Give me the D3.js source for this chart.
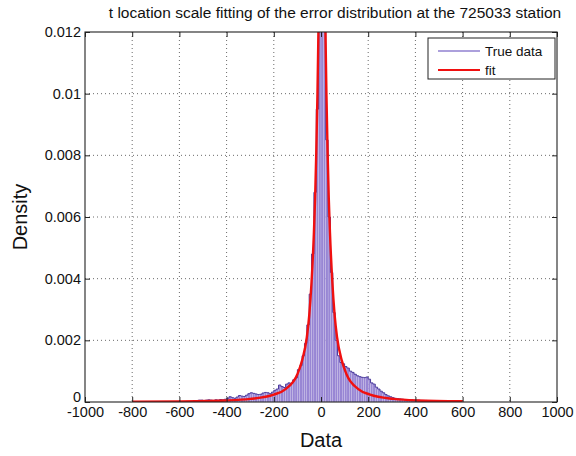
<!DOCTYPE html>
<html>
<head>
<meta charset="utf-8">
<script src="https://cdn.jsdelivr.net/npm/d3@7"></script>
<style>
  html, body { margin: 0; padding: 0; background: #fff; }
  text { font-family: "Liberation Sans", Arial, sans-serif; fill: #111; }
</style>
</head>
<body>
<svg id="chart" width="576" height="456"></svg>
<script>
// Histogram of errors: bin width 10, centers from -515 to 515
const binWidth = 10;
const binCenters = d3.range(-515, 520, 10);
const binDensity = [
  0.00006, 0.00006, 0.00005, 0.00006, 0.00007, 0.00006, 0.00005, 0.00007, 0.00006, 0.00008,
  0.00007, 0.00009, 0.00012, 0.00017, 0.00014, 0.00012, 0.00016, 0.00021, 0.00019, 0.00018,
  0.00022, 0.00027, 0.00030, 0.00028, 0.00026, 0.00024, 0.00025, 0.00029, 0.00031, 0.00030,
  0.00027, 0.00032, 0.00038, 0.00042, 0.00055, 0.00050, 0.00047, 0.00058, 0.00062, 0.00060,
  0.00072, 0.00078, 0.00105, 0.00118, 0.00150, 0.00190, 0.00250, 0.00350, 0.00480, 0.00680,
  0.00950, 0.01350, 0.01650, 0.01220, 0.00850, 0.00600, 0.00420, 0.00290, 0.00200, 0.00150,
  0.00128, 0.00124, 0.00115, 0.00110, 0.00100, 0.00096, 0.00090, 0.00085, 0.00082, 0.00080,
  0.00079, 0.00081, 0.00074, 0.00062, 0.00058, 0.00048, 0.00042, 0.00035, 0.00030, 0.00024,
  0.00020, 0.00017, 0.00014, 0.00012, 0.00011, 0.00010, 0.00009, 0.00008, 0.00008, 0.00007,
  0.00007, 0.00006, 0.00006, 0.00006, 0.00005, 0.00005, 0.00005, 0.00004, 0.00004, 0.00004,
  0.00004, 0.00004, 0.00003, 0.00003
];

// Fitted t location-scale density
const fitX = [-800, -600, -400, -300, -200, -150, -100, -80, -60, -50, -40, -30, -25, -20, -15, -10, -5, 0, 4,
              8, 13, 18, 23, 28, 33, 38, 48, 58, 68, 88, 108, 158, 208, 308, 408, 600];
const fitY = [0.000012, 0.00002, 0.00005, 0.0001, 0.00024, 0.00042, 0.0009, 0.00135, 0.0021, 0.0028, 0.0039,
              0.0055, 0.0066, 0.0081, 0.0100, 0.0125, 0.0150, 0.0168, 0.0174,
              0.0168, 0.0150, 0.0125, 0.0100, 0.0081, 0.0066, 0.0055, 0.0039, 0.0028, 0.0021,
              0.00135, 0.0009, 0.00042, 0.00024, 0.0001, 0.00005, 0.000022];

const xTicks = [-1000, -800, -600, -400, -200, 0, 200, 400, 600, 800, 1000];
const yTicks = [0, 0.002, 0.004, 0.006, 0.008, 0.01, 0.012];
const yTickLabels = ["0", "0.002", "0.004", "0.006", "0.008", "0.01", "0.012"];
const legendLabels = ["True data", "fit"];

const margin = { left: 85, right: 19, top: 32, bottom: 54 };
const W = 576, H = 456;
const iw = W - margin.left - margin.right;
const ih = H - margin.top - margin.bottom;

const svg = d3.select("#chart");
const g = svg.append("g").attr("transform", `translate(${margin.left},${margin.top})`);

const x = d3.scaleLinear().domain([-1000, 1000]).range([0, iw]);
const y = d3.scaleLinear().domain([0, 0.012]).range([ih, 0]);

g.append("clipPath").attr("id", "plotClip")
  .append("rect").attr("x", 0).attr("y", 0).attr("width", iw).attr("height", ih);

// dotted grid
const grid = g.append("g").attr("stroke", "#444").attr("stroke-width", 0.8)
  .attr("stroke-dasharray", "1,3");
xTicks.slice(1, -1).forEach(t => {
  grid.append("line").attr("x1", x(t)).attr("x2", x(t)).attr("y1", 0).attr("y2", ih);
});
yTicks.slice(1, -1).forEach(t => {
  grid.append("line").attr("x1", 0).attr("x2", iw).attr("y1", y(t)).attr("y2", y(t));
});

const plot = g.append("g").attr("clip-path", "url(#plotClip)");

// histogram bars
plot.append("g").selectAll("rect")
  .data(binCenters.map((c, i) => ({ c, d: binDensity[i] })))
  .join("rect")
  .attr("x", d => x(d.c - binWidth / 2))
  .attr("width", d => x(d.c + binWidth / 2) - x(d.c - binWidth / 2))
  .attr("y", d => y(d.d))
  .attr("height", d => ih - y(d.d))
  .attr("fill", "#9886d4")
  .attr("stroke", "#ffffff")
  .attr("stroke-width", 0.25)
  .attr("stroke-opacity", 0.6);

// bar outline (stepped top edge)
const steps = [];
binCenters.forEach((c, i) => {
  steps.push([c - binWidth / 2, binDensity[i]]);
  steps.push([c + binWidth / 2, binDensity[i]]);
});
plot.append("path")
  .attr("d", d3.line().x(d => x(d[0])).y(d => y(d[1]))(
    [[binCenters[0] - binWidth / 2, 0], ...steps, [binCenters[binCenters.length - 1] + binWidth / 2, 0]]))
  .attr("fill", "none").attr("stroke", "#4a3a9c").attr("stroke-width", 1);

// fitted curve
plot.append("path")
  .attr("d", d3.line().x((d, i) => x(fitX[i])).y(d => y(d)).curve(d3.curveMonotoneX)(fitY))
  .attr("fill", "none").attr("stroke", "#f01010").attr("stroke-width", 2.4);

// axes box
g.append("rect").attr("x", 0).attr("y", 0).attr("width", iw).attr("height", ih)
  .attr("fill", "none").attr("stroke", "#222").attr("stroke-width", 1.1);

// axes with inward ticks on all four sides
const tickLen = 5;
const xb = g.append("g").attr("transform", `translate(0,${ih})`)
  .call(d3.axisBottom(x).tickValues(xTicks).tickSizeInner(-tickLen).tickSizeOuter(0).tickPadding(5)
    .tickFormat(d3.format("d")));
const xt = g.append("g")
  .call(d3.axisTop(x).tickValues(xTicks).tickSizeInner(-tickLen).tickSizeOuter(0).tickFormat(""));
const yl = g.append("g")
  .call(d3.axisLeft(y).tickValues(yTicks).tickSizeInner(-tickLen).tickSizeOuter(0).tickPadding(4)
    .tickFormat((d, i) => yTickLabels[i]));
const yr = g.append("g").attr("transform", `translate(${iw},0)`)
  .call(d3.axisRight(y).tickValues(yTicks).tickSizeInner(-tickLen).tickSizeOuter(0).tickFormat(""));
[xb, xt, yl, yr].forEach(a => {
  a.select(".domain").remove();
  a.selectAll(".tick line").attr("stroke", "#222");
  a.selectAll("text").attr("font-size", 14.5).attr("fill", "#222")
    .attr("font-family", "'Liberation Sans', Arial, sans-serif");
});
xb.selectAll(".tick text").text(d => d < 0 ? "-" + Math.abs(d) : d);
// the zero label sits just above the bottom axis line
yl.selectAll(".tick text").filter(d => d === 0).attr("dy", "-0.05em");

// titles
svg.append("text").attr("x", 335).attr("y", 18).attr("text-anchor", "middle")
  .attr("font-size", 15.5).text("t location scale fitting of the error distribution at the 725033 station");
svg.append("text").attr("x", margin.left + iw / 2).attr("y", 447).attr("text-anchor", "middle")
  .attr("font-size", 20).text("Data");
svg.append("text").attr("transform", `translate(27,${margin.top + ih / 2}) rotate(-90)`)
  .attr("text-anchor", "middle").attr("font-size", 20).text("Density");

// legend
const lg = svg.append("g").attr("transform", "translate(428,38)");
lg.append("rect").attr("width", 127).attr("height", 41).attr("fill", "#fff")
  .attr("stroke", "#222").attr("stroke-width", 1);
const legendColors = ["#9080d0", "#f01010"];
const legendWidths = [1.6, 2.2];
legendLabels.forEach((lab, i) => {
  const yy = 13 + i * 19;
  lg.append("line").attr("x1", 10).attr("x2", 52).attr("y1", yy).attr("y2", yy)
    .attr("stroke", legendColors[i]).attr("stroke-width", legendWidths[i]);
  lg.append("text").attr("x", 57).attr("y", yy + 5).attr("font-size", 13.5).text(lab);
});
</script>
</body>
</html>
